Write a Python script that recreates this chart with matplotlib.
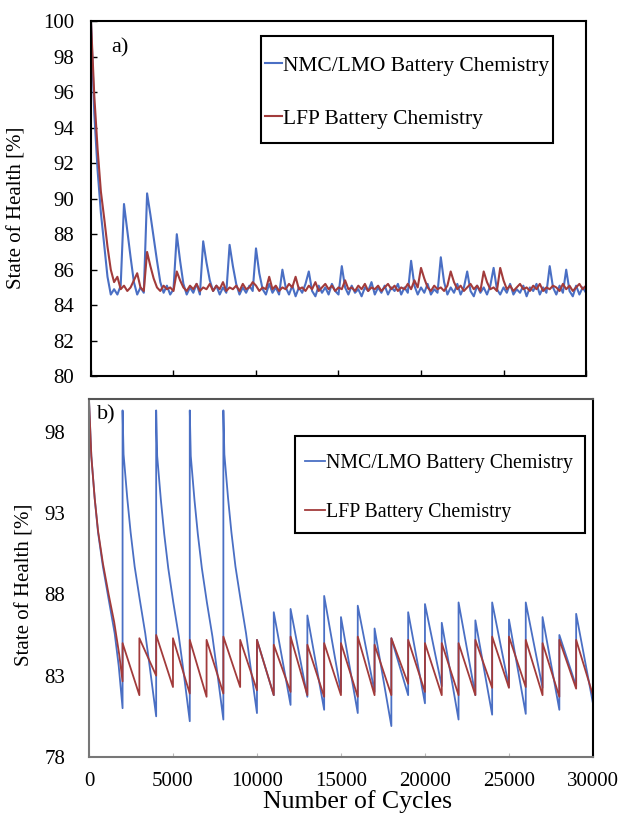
import numpy as np
import matplotlib
matplotlib.use("Agg")
import matplotlib.pyplot as plt
from matplotlib.patches import Rectangle

plt.rcParams['font.family'] = ['Liberation Serif', 'DejaVu Serif']

# ---- panel a) : sampled every 200 cycles (0 ... 30000) ----
paso_a = 200
soh_nmc_a = [
    100.0, 94.8, 91.6, 89.2, 87.4, 85.6, 84.6, 84.9, 84.6, 85.1,
    89.7, 88.2, 86.7, 85.3, 84.6, 85.0, 84.7, 90.3, 89.1, 87.8,
    86.5, 85.3, 84.7, 85.1, 84.6, 84.9, 88.0, 86.5, 85.2, 84.6,
    85.0, 84.7, 85.2, 84.6, 87.6, 86.4, 85.4, 84.8, 85.1, 84.6,
    85.0, 84.7, 87.4, 86.2, 85.2, 84.6, 85.0, 84.7, 85.1, 84.8,
    87.2, 85.8, 84.9, 84.6, 85.2, 84.7, 85.0, 84.6, 86.0, 85.0,
    84.6, 85.1, 84.5, 85.0, 84.7, 85.2, 85.9, 84.8, 84.5, 85.1,
    84.7, 85.0, 84.6, 85.2, 84.8, 84.6, 86.2, 85.0, 84.6, 85.1,
    84.7, 84.9, 84.5, 85.0, 84.8, 85.3, 84.6, 85.0, 84.7, 85.1,
    84.6, 85.0, 84.8, 85.2, 84.6, 85.0, 84.7, 86.5, 85.1, 84.6,
    85.0, 84.7, 85.2, 84.6, 84.9, 84.7, 86.7, 85.3, 84.6, 85.0,
    84.7, 85.2, 84.6, 85.0, 85.9, 84.8, 84.5, 85.1, 84.7, 85.0,
    84.6, 85.1, 86.1, 84.9, 84.6, 85.0, 84.7, 85.2, 84.6, 84.9,
    84.7, 85.1, 84.5, 85.0, 84.8, 85.2, 84.6, 85.0, 84.7, 86.2,
    85.0, 84.6, 85.1, 84.7, 86.0, 84.8, 84.5, 85.1, 84.6, 85.0,
    84.7,
]
soh_lfp_a = [
    100.0, 95.8, 92.8, 90.4, 88.9, 87.3, 86.0, 85.3, 85.6, 84.9,
    85.1, 84.8, 85.0, 85.4, 85.8, 85.0, 84.8, 87.0, 86.2, 85.5,
    85.0, 84.8, 85.1, 84.9, 85.0, 84.8, 85.9, 85.4, 85.0, 84.8,
    85.1, 84.9, 85.2, 84.8, 85.0, 84.9, 85.2, 84.8, 85.1, 84.9,
    85.3, 84.8, 85.0, 84.9, 85.1, 84.8, 85.2, 84.9, 85.0, 85.3,
    85.1, 84.8, 85.0, 84.9, 85.6, 84.9, 85.1, 84.8, 85.0, 84.9,
    85.2, 85.0, 85.6, 84.9, 85.0, 84.8, 85.1, 84.9, 85.3, 84.8,
    85.0, 85.2, 84.9, 85.1, 84.8, 85.0, 84.9, 85.4, 84.9, 85.0,
    84.8, 85.1, 84.9, 85.2, 84.8, 85.0, 84.9, 85.1, 84.8, 85.0,
    85.2, 84.9, 85.1, 84.8, 85.0, 84.9, 85.2, 84.9, 85.4, 85.0,
    86.1, 85.5, 85.0, 84.8, 85.1, 84.9, 85.0, 84.8, 85.1, 85.9,
    85.3, 84.9, 85.1, 84.8, 85.0, 85.2, 84.9, 85.1, 84.8, 85.9,
    85.3, 84.9, 85.0, 84.8, 86.1, 85.4, 84.9, 85.1, 84.8, 85.0,
    85.2, 84.9, 85.0, 84.8, 85.1, 84.9, 85.2, 84.8, 85.0, 84.9,
    85.1, 85.0, 84.8, 85.2, 84.9, 85.1, 84.8, 85.0, 85.2, 84.9,
    85.1,
]
ciclos_a = np.arange(len(soh_nmc_a)) * paso_a

# ---- panel b) : breakpoints of the saw-tooth curves ----
ciclos_nmc_b = [
    0, 140, 340, 540, 830, 1170, 1530, 1770, 2000,
    2000, 2060, 2280, 2480, 2720, 3020, 3350, 3610, 4000,
    4000, 4060, 4280, 4480, 4720, 5020, 5350, 5610, 6000,
    6000, 6060, 6280, 6480, 6720, 7020, 7350, 7610, 8000,
    8000, 8060, 8280, 8480, 8720, 9020, 9350, 9610, 10000,
    10000, 11000, 11000, 12000, 12000, 13000, 13000, 14000, 14000, 15000,
    15000, 16000, 16000, 17000, 17000, 18000, 18000, 19000, 19000, 20000,
    20000, 21000, 21000, 22000, 22000, 23000, 23000, 24000, 24000, 25000,
    25000, 26000, 26000, 27000, 27000, 28000, 28000, 29000, 29000, 30000,
]
soh_nmc_b = [
    100.0, 96.5, 93.9, 91.8, 89.7, 87.7, 85.6, 83.6, 81.0,
    99.3, 96.6, 93.9, 91.8, 89.7, 87.7, 85.6, 83.6, 80.5,
    99.3, 96.5, 93.8, 91.7, 89.6, 87.5, 85.4, 83.4, 80.2,
    99.3, 96.5, 93.8, 91.7, 89.6, 87.5, 85.4, 83.4, 80.3,
    99.3, 96.6, 93.9, 91.8, 89.7, 87.7, 85.6, 83.6, 80.7,
    85.2, 81.8, 86.9, 81.2, 87.1, 81.7, 86.7, 80.9, 87.9, 82.0,
    86.6, 80.7, 87.3, 82.0, 85.9, 79.9, 85.3, 81.8, 86.9, 81.3,
    87.4, 82.35, 86.25, 80.3, 87.5, 81.8, 86.4, 80.6, 87.5, 82.3,
    86.45, 80.65, 87.5, 82.25, 86.6, 80.9, 85.5, 82.35, 86.8, 81.3,
]
ciclos_lfp_b = [
    0, 140, 340, 540, 830, 1170, 1500, 1800, 2000,
    2000, 3000, 3000, 4000, 4000, 5000, 5000, 6000, 6000, 7000,
    7000, 8000, 8000, 9000, 9000, 10000, 10000, 11000, 11000, 12000,
    12000, 13000, 13000, 14000, 14000, 15000, 15000, 16000, 16000, 17000,
    17000, 18000, 18000, 19000, 19000, 20000, 20000, 21000, 21000, 22000,
    22000, 23000, 23000, 24000, 24000, 25000, 25000, 26000, 26000, 27000,
    27000, 28000, 28000, 29000, 29000, 30000,
]
soh_lfp_b = [
    100.0, 96.5, 93.9, 91.9, 89.9, 88.0, 86.3, 84.3, 82.65,
    85.0, 81.8, 85.3, 83.0, 85.5, 82.3, 85.3, 81.9, 85.2, 81.7,
    85.2, 81.9, 85.4, 82.3, 85.2, 82.1, 85.2, 81.8, 84.9, 82.0,
    85.4, 81.8, 84.9, 81.7, 85.0, 81.8, 85.0, 81.7, 85.4, 81.8,
    84.9, 81.8, 85.3, 82.5, 85.2, 82.0, 85.0, 81.8, 85.0, 81.8,
    85.0, 81.8, 85.2, 82.25, 85.4, 82.25, 85.4, 82.3, 85.2, 81.8,
    85.0, 81.7, 85.2, 82.2, 85.2, 81.8,
]

etiqueta_nmc = 'NMC/LMO Battery Chemistry'
etiqueta_lfp = 'LFP Battery Chemistry'
color_nmc = '#4a6fc4'
color_lfp = '#a23b3b'

fig = plt.figure(figsize=(6.31, 8.16), dpi=100)

# Panel a)
ax1 = fig.add_axes([0.1442, 0.539, 0.7845, 0.435])
ax1.plot(ciclos_a, soh_nmc_a, color=color_nmc, lw=1.5, label=etiqueta_nmc)
ax1.plot(ciclos_a, soh_lfp_a, color=color_lfp, lw=1.5, label=etiqueta_lfp)
ax1.set_xlim(0, 30000)
ax1.set_ylim(80, 100)
ax1.set_yticks(np.arange(80, 101, 2))
ax1.set_xticks(np.arange(0, 30001, 5000))
ax1.set_xticklabels([])
ax1.tick_params(direction='in', length=4, width=1, labelsize=15, pad=12)
ax1.set_ylabel('State of Health [%]', fontsize=15)
ax1.yaxis.set_label_coords(-0.131, 0.473)
for s in ax1.spines.values():
    s.set_linewidth(1.5)
ax1.text(0.04, 0.925, 'a)', transform=ax1.transAxes, fontsize=16, va='center')
# caja de la leyenda dibujada aparte
ax1.add_patch(Rectangle((0.343, 0.656), 0.59, 0.302, transform=ax1.transAxes,
                        facecolor='white', edgecolor='black', lw=1.5, zorder=4))
leg1 = ax1.legend(loc='center left', bbox_to_anchor=(0.3515, 0.800),
                  fontsize=15.5, handlelength=0.8, handletextpad=0.05,
                  labelspacing=1.55, borderpad=0, borderaxespad=0,
                  frameon=False)
leg1.set_zorder(5)

# Panel b)
ax2 = fig.add_axes([0.141, 0.0723, 0.7987, 0.4387])
ax2.plot(ciclos_nmc_b, soh_nmc_b, color=color_nmc, lw=1.3, label=etiqueta_nmc)
ax2.plot(ciclos_lfp_b, soh_lfp_b, color=color_lfp, lw=1.3, label=etiqueta_lfp)
ax2.set_xlim(0, 30000)
ax2.set_ylim(78, 100)
ax2.set_yticks(np.arange(78, 100, 5))
ax2.set_xticks(np.arange(0, 30001, 5000))
ax2.tick_params(axis='x', direction='in', length=3, color='#bbbbbb',
                labelsize=15, pad=11)
ax2.tick_params(axis='y', length=0, labelsize=15, pad=17)
ax2.set_ylabel('State of Health [%]', fontsize=15)
ax2.yaxis.set_label_coords(-0.109, 0.48)
ax2.set_xlabel('Number of Cycles', fontsize=18.5)
ax2.xaxis.set_label_coords(0.532, -0.093)
ax2.spines['left'].set_color('#777777')
ax2.spines['bottom'].set_color('#777777')
ax2.spines['top'].set_color('#555555')
ax2.spines['right'].set_color('black')
for s in ax2.spines.values():
    s.set_linewidth(1.5)
ax2.text(0.015, 0.955, 'b)', transform=ax2.transAxes, fontsize=16, va='center')
ax2.add_patch(Rectangle((0.409, 0.626), 0.575, 0.271, transform=ax2.transAxes,
                        facecolor='white', edgecolor='black', lw=1.5, zorder=4))
leg2 = ax2.legend(loc='center left', bbox_to_anchor=(0.4286, 0.751),
                  fontsize=14.3, handlelength=1.0, handletextpad=0.05,
                  labelspacing=1.5, borderpad=0, borderaxespad=0,
                  frameon=False)
leg2.set_zorder(5)

fig.savefig('out.png', dpi=100)
